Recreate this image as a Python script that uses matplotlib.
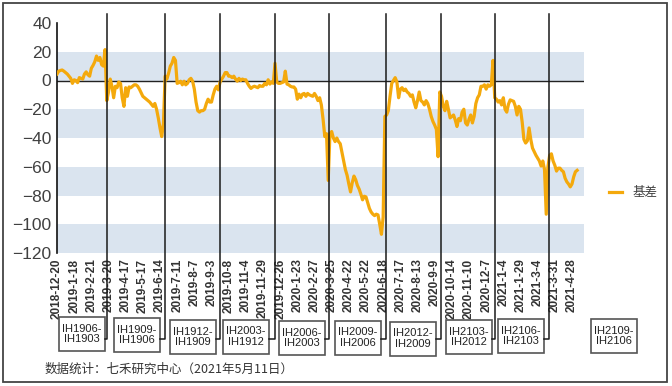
"""
IH 主力合约基差走势（2018-12-20 至 2021-05-11）
"""

import numpy as np
import matplotlib.pyplot as plt
from matplotlib.lines import Line2D
from matplotlib.patches import Rectangle

plt.rcParams['font.family'] = ['Liberation Sans', 'Noto Sans CJK SC', 'DejaVu Sans']

# ============================================================================ #
# DADOS (um valor a cada 2 pregões, por contrato vigente)
# ============================================================================ #

seg_ih1903 = [4.5, 6.5, 7, 7.3, 6.5, 5.5, 4.5, 3, 1.5, -2, 0.5, 0, -1.5, 2, 1.5,
              1, 4.5, 6, 4, 3, 8.5, 10.5, 13, 17, 14, 16, 11, 10, 21.5]
seg_ih1906 = [-14, -8, 1, -4, -12, -4, -5, -1, -2, -12, -18, -5, -11, -4.5, -5,
              -4, -3, -3, -4, -6, -8.5, -11, -12, -13, -14, -15, -16.5, -18,
              -16, -20, -26, -33, -39, -30]
seg_ih1909 = [3, 1, 5, 10, 12, 16, 14, -2, -1.5, -0.5, -3, -0.5, -3, -2, 0.5,
              1.5, -0.5, -6, -15, -21, -22, -21, -21, -20, -16, -13, -15, -15,
              -10, -6, -4, -6.5]
seg_ih1912 = [-1, 1, 3, 5.5, 5.5, 3, 3, 2, 3, 1, -0.5, 1.5, 0, 1, 0.5, 0.5, -2,
              -4, -5.5, -4.5, -4, -4.5, -5, -3.5, -4, -4, -2, -3, 0.5, -2.5,
              -1, -2]
seg_ih2003 = [12, -1, -2, -2, -1.5, -1, 6.5, -2.5, -3, -4, -4.5, -4.5, -6, -13,
              -9.5, -12, -9.5, -9, -11, -9, -10, -10.5, -11, -9, -11, -14, -12,
              -17, -27, -39, -37, -69.5]
seg_ih2006 = [-37, -35.5, -40, -42.5, -40, -42.5, -44, -50, -56, -62, -66, -72,
              -77.5, -71, -66.5, -69, -73, -75.5, -79, -83, -80.5, -81, -85,
              -89, -91.5, -93, -94, -93, -93.5, -100, -107, -95, -25]
seg_ih2009 = [-24, -21, -11, -2, 0, 2, -1, -12, -6, -5, -7, -6, -8, -9, -11,
              -10, -15, -19, -14, -8, -14, -15, -17, -14, -16, -20, -25, -28.5,
              -31, -34, -53, -8]
seg_ih2012 = [-11, -18, -21, -14.5, -20, -26, -25, -24, -27.5, -32, -26.5, -28,
              -22, -20, -29.5, -31, -27, -24, -29.5, -25, -16, -12, -10, -4,
              -4, -3, -6, -3, -4, -3, 14]
seg_ih2103 = [-12, -13, -15, -14, -17, -12, -20, -22, -16.5, -13.5, -14, -14.5,
              -18, -24, -18, -20, -29, -41, -43.5, -42, -33, -41, -47, -49.5,
              -52, -54, -56, -59.5, -56, -62, -93, -60]
seg_ih2106 = [-52, -51, -56, -59, -63, -61, -61, -62.5, -63.5, -68, -70.5, -72,
              -74, -72, -67, -63.5, -62.5]

passo = 2  # pregões entre valores

# Rótulos do eixo X (a cada 20 pregões)
datas = ["2018-12-20", "2019-1-18", "2019-2-21", "2019-3-20", "2019-4-17",
         "2019-5-17", "2019-6-14", "2019-7-11", "2019-8-7", "2019-9-3",
         "2019-10-8", "2019-11-4", "2019-11-29", "2019-12-26", "2020-1-23",
         "2020-2-27", "2020-3-25", "2020-4-22", "2020-5-22", "2020-6-18",
         "2020-7-17", "2020-8-13", "2020-9-9", "2020-10-14", "2020-11-10",
         "2020-12-7", "2021-1-4", "2021-1-29", "2021-3-4", "2021-3-31",
         "2021-4-28"]

# Trocas de contrato (pregão) e rótulos das caixas
trocas = [58, 126, 190, 254, 317, 383, 447, 510, 573]
rotulos_troca = ["IH1906-\nIH1903", "IH1909-\nIH1906", "IH1912-\nIH1909",
                 "IH2003-\nIH1912", "IH2006-\nIH2003", "IH2009-\nIH2006",
                 "IH2012-\nIH2009", "IH2103-\nIH2012", "IH2106-\nIH2103",
                 "IH2109-\nIH2106"]

# ============================================================================ #
# LAYOUT (pixels da figura, origem no topo)
# ============================================================================ #

W, H = 672, 386
cx_caixas = [82, 137, 192.5, 245.5, 302, 357.5, 412.5, 468.5, 521, 614]
cy_caixas = [334, 335, 337, 336.5, 338, 337.5, 338.5, 337, 336, 336]
larg_caixa, alt_caixa = 46, 34

laranja = "#f4a90c"
faixa = "#dae4ef"

basis = np.concatenate([seg_ih1903, seg_ih1906, seg_ih1909, seg_ih1912,
                        seg_ih2003, seg_ih2006, seg_ih2009, seg_ih2012,
                        seg_ih2103, seg_ih2106])
x = np.arange(len(basis)) * passo

fig = plt.figure(figsize=(W / 100, H / 100), dpi=100)
ax = fig.add_axes([57 / W, 1 - 253 / H, 527 / W, 230 / H])

# faixas horizontais alternadas
for lo in (0, -40, -80, -120):
    ax.axhspan(lo, lo + 20, color=faixa, lw=0, zorder=0)

ax.axhline(0, color="#222222", lw=1.0, zorder=1)
ax.plot(x, basis, color=laranja, lw=2.3, solid_joinstyle="round",
        label="基差", zorder=3)

ax.set_xlim(0, 614)
ax.set_ylim(-120, 40)
ax.set_yticks(np.arange(-120, 41, 20))
ax.set_xticks(np.arange(len(datas)) * 20)
ax.set_xticklabels(datas, rotation=90, fontsize=8.5, fontweight="bold",
                   color="#333333", va="top", ha="center")
ax.tick_params(axis="x", length=0, pad=4)
ax.tick_params(axis="y", length=0, pad=4, labelsize=12.5, labelcolor="#404040")

for s in ("top", "right", "bottom"):
    ax.spines[s].set_visible(False)
ax.spines["left"].set_color("#111111")
ax.spines["left"].set_linewidth(1.2)
ax.patch.set_alpha(0)

ax.legend(loc="center left", bbox_to_anchor=(598 / W, 1 - 193 / H),
          bbox_transform=fig.transFigure, frameon=False, fontsize=9,
          handlelength=1.05, handletextpad=0.8, labelcolor="#404040")


def fig_xy(px, py):
    return px / W, 1 - py / H


# linhas de troca + caixas
for i, idx in enumerate(trocas):
    xd = ax.transData.transform((idx, 0))[0]
    x_box = cx_caixas[i] + larg_caixa / 2
    x0, y0 = fig_xy(xd, 14)
    x1, y1 = fig_xy(xd, 339)
    x2, _ = fig_xy(x_box, 339)
    fig.add_artist(Line2D([x0, x1, x2], [y0, y1, y1], color="#1a1a1a",
                          lw=1.1, transform=fig.transFigure))

for i, txt in enumerate(rotulos_troca):
    bx, by = fig_xy(cx_caixas[i] - larg_caixa / 2, cy_caixas[i] + alt_caixa / 2)
    fig.add_artist(Rectangle((bx, by), larg_caixa / W, alt_caixa / H,
                             transform=fig.transFigure, fill=True,
                             facecolor="white", edgecolor="#555555", lw=1.2))
    tx, ty = fig_xy(cx_caixas[i], cy_caixas[i])
    fig.text(tx, ty, txt, ha="center", va="center", fontsize=8,
             color="#222222", linespacing=1.05)

# rodapé
fx, fy = fig_xy(45, 369)
fig.text(fx, fy, "数据统计：七禾研究中心（2021年5月11日）", fontsize=9,
         color="#333333", va="center", ha="left",
         family=["Noto Sans CJK SC", "DejaVu Sans"])

# moldura externa
fig.add_artist(Rectangle((3 / W, 1 - 382 / H), 664 / W, 379 / H,
                         transform=fig.transFigure, fill=False,
                         edgecolor="#444444", lw=1.3))

fig.savefig("out.png", dpi=100)
